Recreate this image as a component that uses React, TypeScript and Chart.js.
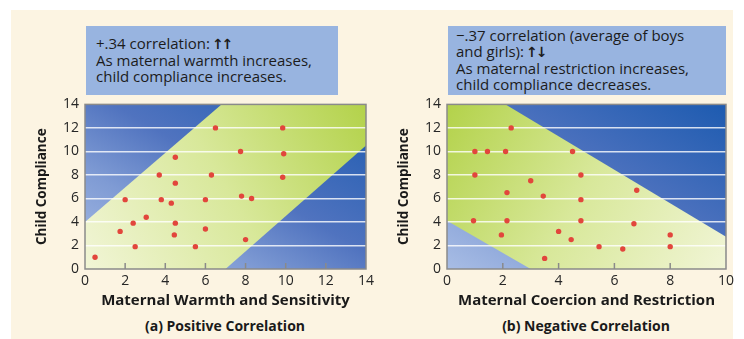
import React, { useEffect, useRef } from "react";
import { Chart, registerables } from "chart.js";

Chart.register(...registerables);

// ---- Panel (a): maternal warmth vs. child compliance ----
const warmthX = [0.5, 1.75, 2, 2.4, 2.5, 3.05, 3.7, 3.8, 4.3, 4.5, 4.5, 4.5, 4.45, 5.5, 6, 6, 6.3, 6.5, 7.75, 7.8, 8, 8.3, 9.85, 9.9, 9.85];
const warmthY = [1, 3.2, 5.9, 3.9, 1.9, 4.4, 8, 5.9, 5.6, 9.5, 7.3, 3.9, 2.9, 1.9, 5.9, 3.4, 8, 12, 10, 6.2, 2.5, 6, 12, 9.8, 7.8];
const warmthXTicks = [0, 2, 4, 6, 8, 10, 12, 14];
// green band outline in data units (x, y)
const warmthBand = [[0, 0], [0, 4], [6.8, 14], [14, 14], [14, 10.5], [7, 0]];

// ---- Panel (b): maternal coercion vs. child compliance ----
const coercionX = [2.3, 1, 1.45, 2.1, 4.5, 1, 4.8, 3, 2.15, 3.45, 4.8, 6.8, 0.95, 2.15, 4.8, 6.7, 1.95, 4, 4.45, 3.5, 5.45, 6.3, 8, 8];
const coercionY = [12, 10, 10, 10, 10, 8, 8, 7.5, 6.5, 6.2, 5.9, 6.7, 4.1, 4.1, 4.1, 3.85, 2.9, 3.2, 2.5, 0.9, 1.9, 1.7, 2.9, 1.9];
const coercionXTicks = [0, 2, 4, 6, 8, 10];
const coercionBand = [[0, 4.1], [0, 14], [2.1, 14], [10, 2.75], [10, 0], [3, 0]];

const complianceTicks = [0, 2, 4, 6, 8, 10, 12, 14];

const CREAM = "#fcf4e2";
const NOTE_BLUE = "#98b4e0";
const DOT = "#e2463c";
const TEXT = "#262626";
const SANS = "'Open Sans', sans-serif";

type PanelProps = {
  xs: number[];
  ys: number[];
  xMax: number;
  xTicks: number[];
  band: number[][];
  xTitle: string;
  greenFrom: "left" | "right";
  left: number;
  width: number;
};

const bandPlugin = {
  id: "bands",
  beforeDraw(chart: any, _args: any, opts: any) {
    const { ctx, chartArea: a, scales } = chart;
    const w = a.right - a.left;
    const h = a.bottom - a.top;
    ctx.save();
    ctx.beginPath();
    ctx.rect(a.left, a.top, w, h);
    ctx.clip();
    // blue backdrop: light in the lower-left corner, deep in the upper-right,
    // with the other two corners at the same mid tone
    const k = (2 * w * h) / (w * w + h * h);
    const blue = ctx.createLinearGradient(a.left, a.bottom, a.left + k * h, a.bottom - k * w);
    blue.addColorStop(0, "#a8bde5");
    blue.addColorStop(0.3, "#7f9bd4");
    blue.addColorStop(0.55, "#5073bf");
    blue.addColorStop(1, "#1d5bb0");
    ctx.fillStyle = blue;
    ctx.fillRect(a.left, a.top, w, h);

    const g =
      opts.greenFrom === "left"
        ? ctx.createLinearGradient(a.left, a.bottom, a.right, a.top)
        : ctx.createLinearGradient(a.right, a.bottom, a.left, a.top);
    g.addColorStop(0, "#f1f5d6");
    g.addColorStop(0.5, "#d8e89a");
    g.addColorStop(1, "#b3d24a");
    ctx.fillStyle = g;
    ctx.beginPath();
    opts.band.forEach((p: number[], i: number) => {
      const px = scales.x.getPixelForValue(p[0]);
      const py = scales.y.getPixelForValue(p[1]);
      if (i === 0) ctx.moveTo(px, py);
      else ctx.lineTo(px, py);
    });
    ctx.closePath();
    ctx.fill();
    ctx.restore();
  },
  afterDraw(chart: any) {
    const { ctx, chartArea: a, scales } = chart;
    ctx.save();
    ctx.strokeStyle = "#8a8a8a";
    ctx.lineWidth = 1.5;
    ctx.strokeRect(a.left, a.top, a.right - a.left, a.bottom - a.top);
    // short inward tick marks along the bottom edge
    scales.x.ticks.forEach((t: any) => {
      if (t.value <= scales.x.min || t.value >= scales.x.max) return;
      const px = scales.x.getPixelForValue(t.value);
      ctx.beginPath();
      ctx.moveTo(px, a.bottom);
      ctx.lineTo(px, a.bottom - 6);
      ctx.stroke();
    });
    ctx.restore();
  },
};

function Panel(p: PanelProps) {
  const ref = useRef<HTMLCanvasElement>(null);
  useEffect(() => {
    if (!ref.current) return;
    const chart = new Chart(ref.current, {
      type: "scatter",
      data: {
        datasets: [
          {
            data: p.xs.map((x, i) => ({ x, y: p.ys[i] })),
            backgroundColor: DOT,
            borderWidth: 0,
            pointRadius: 2.7,
          },
        ],
      },
      options: {
        animation: false,
        responsive: false,
        devicePixelRatio: 1,
        layout: { padding: { top: 0, right: 0, left: 0, bottom: 0 } },
        plugins: {
          legend: { display: false },
          tooltip: { enabled: false },
          bands: { band: p.band, greenFrom: p.greenFrom },
        } as any,
        scales: {
          x: {
            type: "linear",
            min: 0,
            max: p.xMax,
            afterBuildTicks: (s: any) => {
              s.ticks = p.xTicks.map((v) => ({ value: v }));
            },
            afterFit: (s: any) => {
              s.height = 41;
            },
            grid: { display: false, drawTicks: false },
            border: { display: false },
            ticks: {
              padding: 4,
              color: TEXT,
              font: { family: SANS, size: 14 },
              maxRotation: 0,
            },
            title: {
              display: true,
              text: p.xTitle,
              color: "#1a1a1a",
              padding: { top: 0, bottom: 0 },
              font: { family: SANS, size: 15, weight: "bold" },
            },
          },
          y: {
            type: "linear",
            min: 0,
            max: 14,
            afterBuildTicks: (s: any) => {
              s.ticks = complianceTicks.map((v) => ({ value: v }));
            },
            afterFit: (s: any) => {
              s.width = 65;
            },
            grid: {
              drawTicks: false,
              lineWidth: 1.5,
              color: (c: any) =>
                c.tick && (c.tick.value === 0 || c.tick.value === 14)
                  ? "rgba(0,0,0,0)"
                  : "rgba(255,255,255,0.8)",
            },
            border: { display: false },
            ticks: {
              padding: 6,
              color: TEXT,
              font: { family: SANS, size: 14 },
            },
            title: {
              display: true,
              text: "Child Compliance",
              color: "#1a1a1a",
              padding: { top: 14, bottom: 0 },
              font: { family: SANS, size: 13.5, weight: "bold" },
            },
          },
        },
      },
      plugins: [bandPlugin],
    });
    return () => chart.destroy();
  }, []);
  return (
    <canvas
      ref={ref}
      width={p.width}
      height={220}
      style={{ position: "absolute", left: p.left, top: 90, width: p.width, height: 220 }}
    />
  );
}

const noteStyle: React.CSSProperties = {
  position: "absolute",
  top: 26,
  height: 69,
  background: NOTE_BLUE,
  display: "flex",
  flexDirection: "column",
  justifyContent: "center",
  boxSizing: "border-box",
  fontFamily: SANS,
  fontSize: 15,
  lineHeight: "15.8px",
  color: "#1c1c1c",
};

const arrowStyle: React.CSSProperties = {
  fontFamily: "'DejaVu Sans', sans-serif",
  fontWeight: 700,
  fontSize: 14,
  letterSpacing: -2,
  marginLeft: 2,
};

const captionStyle: React.CSSProperties = {
  position: "absolute",
  top: 317,
  width: 300,
  textAlign: "center",
  fontFamily: SANS,
  fontWeight: 700,
  fontSize: 14,
  lineHeight: "18px",
  color: "#1a1a1a",
};

export default function App() {
  return (
    <div style={{ position: "absolute", left: 0, top: 0, width: 744, height: 339, background: "#fff", overflow: "hidden" }}>
      <div style={{ position: "absolute", left: 11, top: 10, width: 722, height: 329, background: CREAM }} />
      <div style={{ ...noteStyle, left: 86, width: 252, paddingLeft: 10 }}>
        <div>
          +.34 correlation:<span style={arrowStyle}>↑↑</span>
        </div>
        <div>As maternal warmth increases,</div>
        <div>child compliance increases.</div>
      </div>
      <div style={{ ...noteStyle, left: 448, width: 278, paddingLeft: 8 }}>
        <div>−.37 correlation (average of boys</div>
        <div>
          and girls):<span style={arrowStyle}>↑↓</span>
        </div>
        <div>As maternal restriction increases,</div>
        <div>child compliance decreases.</div>
      </div>
      <Panel
        xs={warmthX}
        ys={warmthY}
        xMax={14}
        xTicks={warmthXTicks}
        band={warmthBand}
        xTitle="Maternal Warmth and Sensitivity"
        greenFrom="left"
        left={20}
        width={358}
      />
      <Panel
        xs={coercionX}
        ys={coercionY}
        xMax={10}
        xTicks={coercionXTicks}
        band={coercionBand}
        xTitle="Maternal Coercion and Restriction"
        greenFrom="right"
        left={382}
        width={356}
      />
      <div style={{ ...captionStyle, left: 75 }}>(a) Positive Correlation</div>
      <div style={{ ...captionStyle, left: 436 }}>(b) Negative Correlation</div>
    </div>
  );
}
